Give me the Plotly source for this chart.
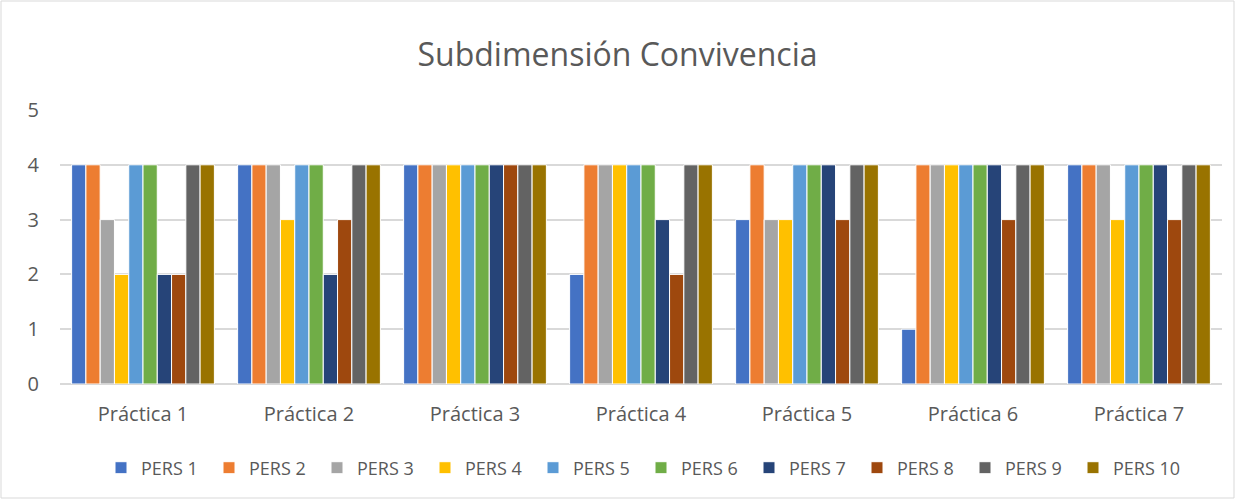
import plotly.graph_objects as go

categories = ["Práctica 1", "Práctica 2", "Práctica 3", "Práctica 4", "Práctica 5", "Práctica 6", "Práctica 7"]
series_names = ["PERS 1", "PERS 2", "PERS 3", "PERS 4", "PERS 5", "PERS 6", "PERS 7", "PERS 8", "PERS 9", "PERS 10"]
pers1 = [4, 4, 4, 2, 3, 1, 4]
pers2 = [4, 4, 4, 4, 4, 4, 4]
pers3 = [3, 4, 4, 4, 3, 4, 4]
pers4 = [2, 3, 4, 4, 3, 4, 3]
pers5 = [4, 4, 4, 4, 4, 4, 4]
pers6 = [4, 4, 4, 4, 4, 4, 4]
pers7 = [2, 2, 4, 3, 4, 4, 4]
pers8 = [2, 3, 4, 2, 3, 3, 3]
pers9 = [4, 4, 4, 4, 4, 4, 4]
pers10 = [4, 4, 4, 4, 4, 4, 4]
series_values = [pers1, pers2, pers3, pers4, pers5, pers6, pers7, pers8, pers9, pers10]
colors = ["#4472C4", "#ED7D31", "#A5A5A5", "#FFC000", "#5B9BD5",
          "#70AD47", "#264478", "#9E480E", "#636363", "#997300"]

fig = go.Figure()
for name, vals, col in zip(series_names, series_values, colors):
    fig.add_trace(go.Bar(x=categories, y=vals, name=name,
                         marker=dict(color=col, line=dict(color="white", width=1))))

W, H = 1235, 499
ml, mr, mt, mb = 60, 13, 110, 115
pw, ph = W - ml - mr, H - mt - mb

fig.update_layout(
    width=W, height=H,
    barmode="group", bargap=0.14, bargroupgap=0.0,
    margin=dict(l=ml, r=mr, t=mt, b=mb, autoexpand=False),
    paper_bgcolor="white", plot_bgcolor="white",
    font=dict(family="Open Sans", color="#595959", size=18),
    title=dict(text="Subdimensión Convivencia", x=0.5, xanchor="center",
               y=1 - 55 / H, yanchor="middle",
               font=dict(size=32, color="#595959", family="Open Sans")),
    xaxis=dict(showline=False, ticks="", tickfont=dict(size=20, color="#595959"),
               ticklabelstandoff=16),
    yaxis=dict(range=[0, 5], dtick=1, showgrid=True, gridcolor="#D9D9D9", gridwidth=1.5,
               zeroline=True, zerolinecolor="#D9D9D9", zerolinewidth=1.5,
               tickfont=dict(size=20, color="#595959"), ticks="", ticklabelstandoff=20),
    legend=dict(orientation="h", x=0.5, xanchor="center", y=-(468 - 384) / ph,
                yanchor="middle", font=dict(size=18, color="#595959"),
                entrywidth=63, entrywidthmode="pixels", itemwidth=30,
                traceorder="normal"),
    shapes=[dict(type="rect", xref="paper", yref="paper",
                 x0=-(ml - 1) / pw, x1=1 + (mr - 1) / pw,
                 y0=-(mb - 1) / ph, y1=1 + (mt - 1) / ph,
                 line=dict(color="#D9D9D9", width=1), fillcolor="rgba(0,0,0,0)")],
)

fig.write_html("out.html", config={"displayModeBar": False},
               post_script="document.body.style.margin='0';document.body.style.overflow='hidden';")
